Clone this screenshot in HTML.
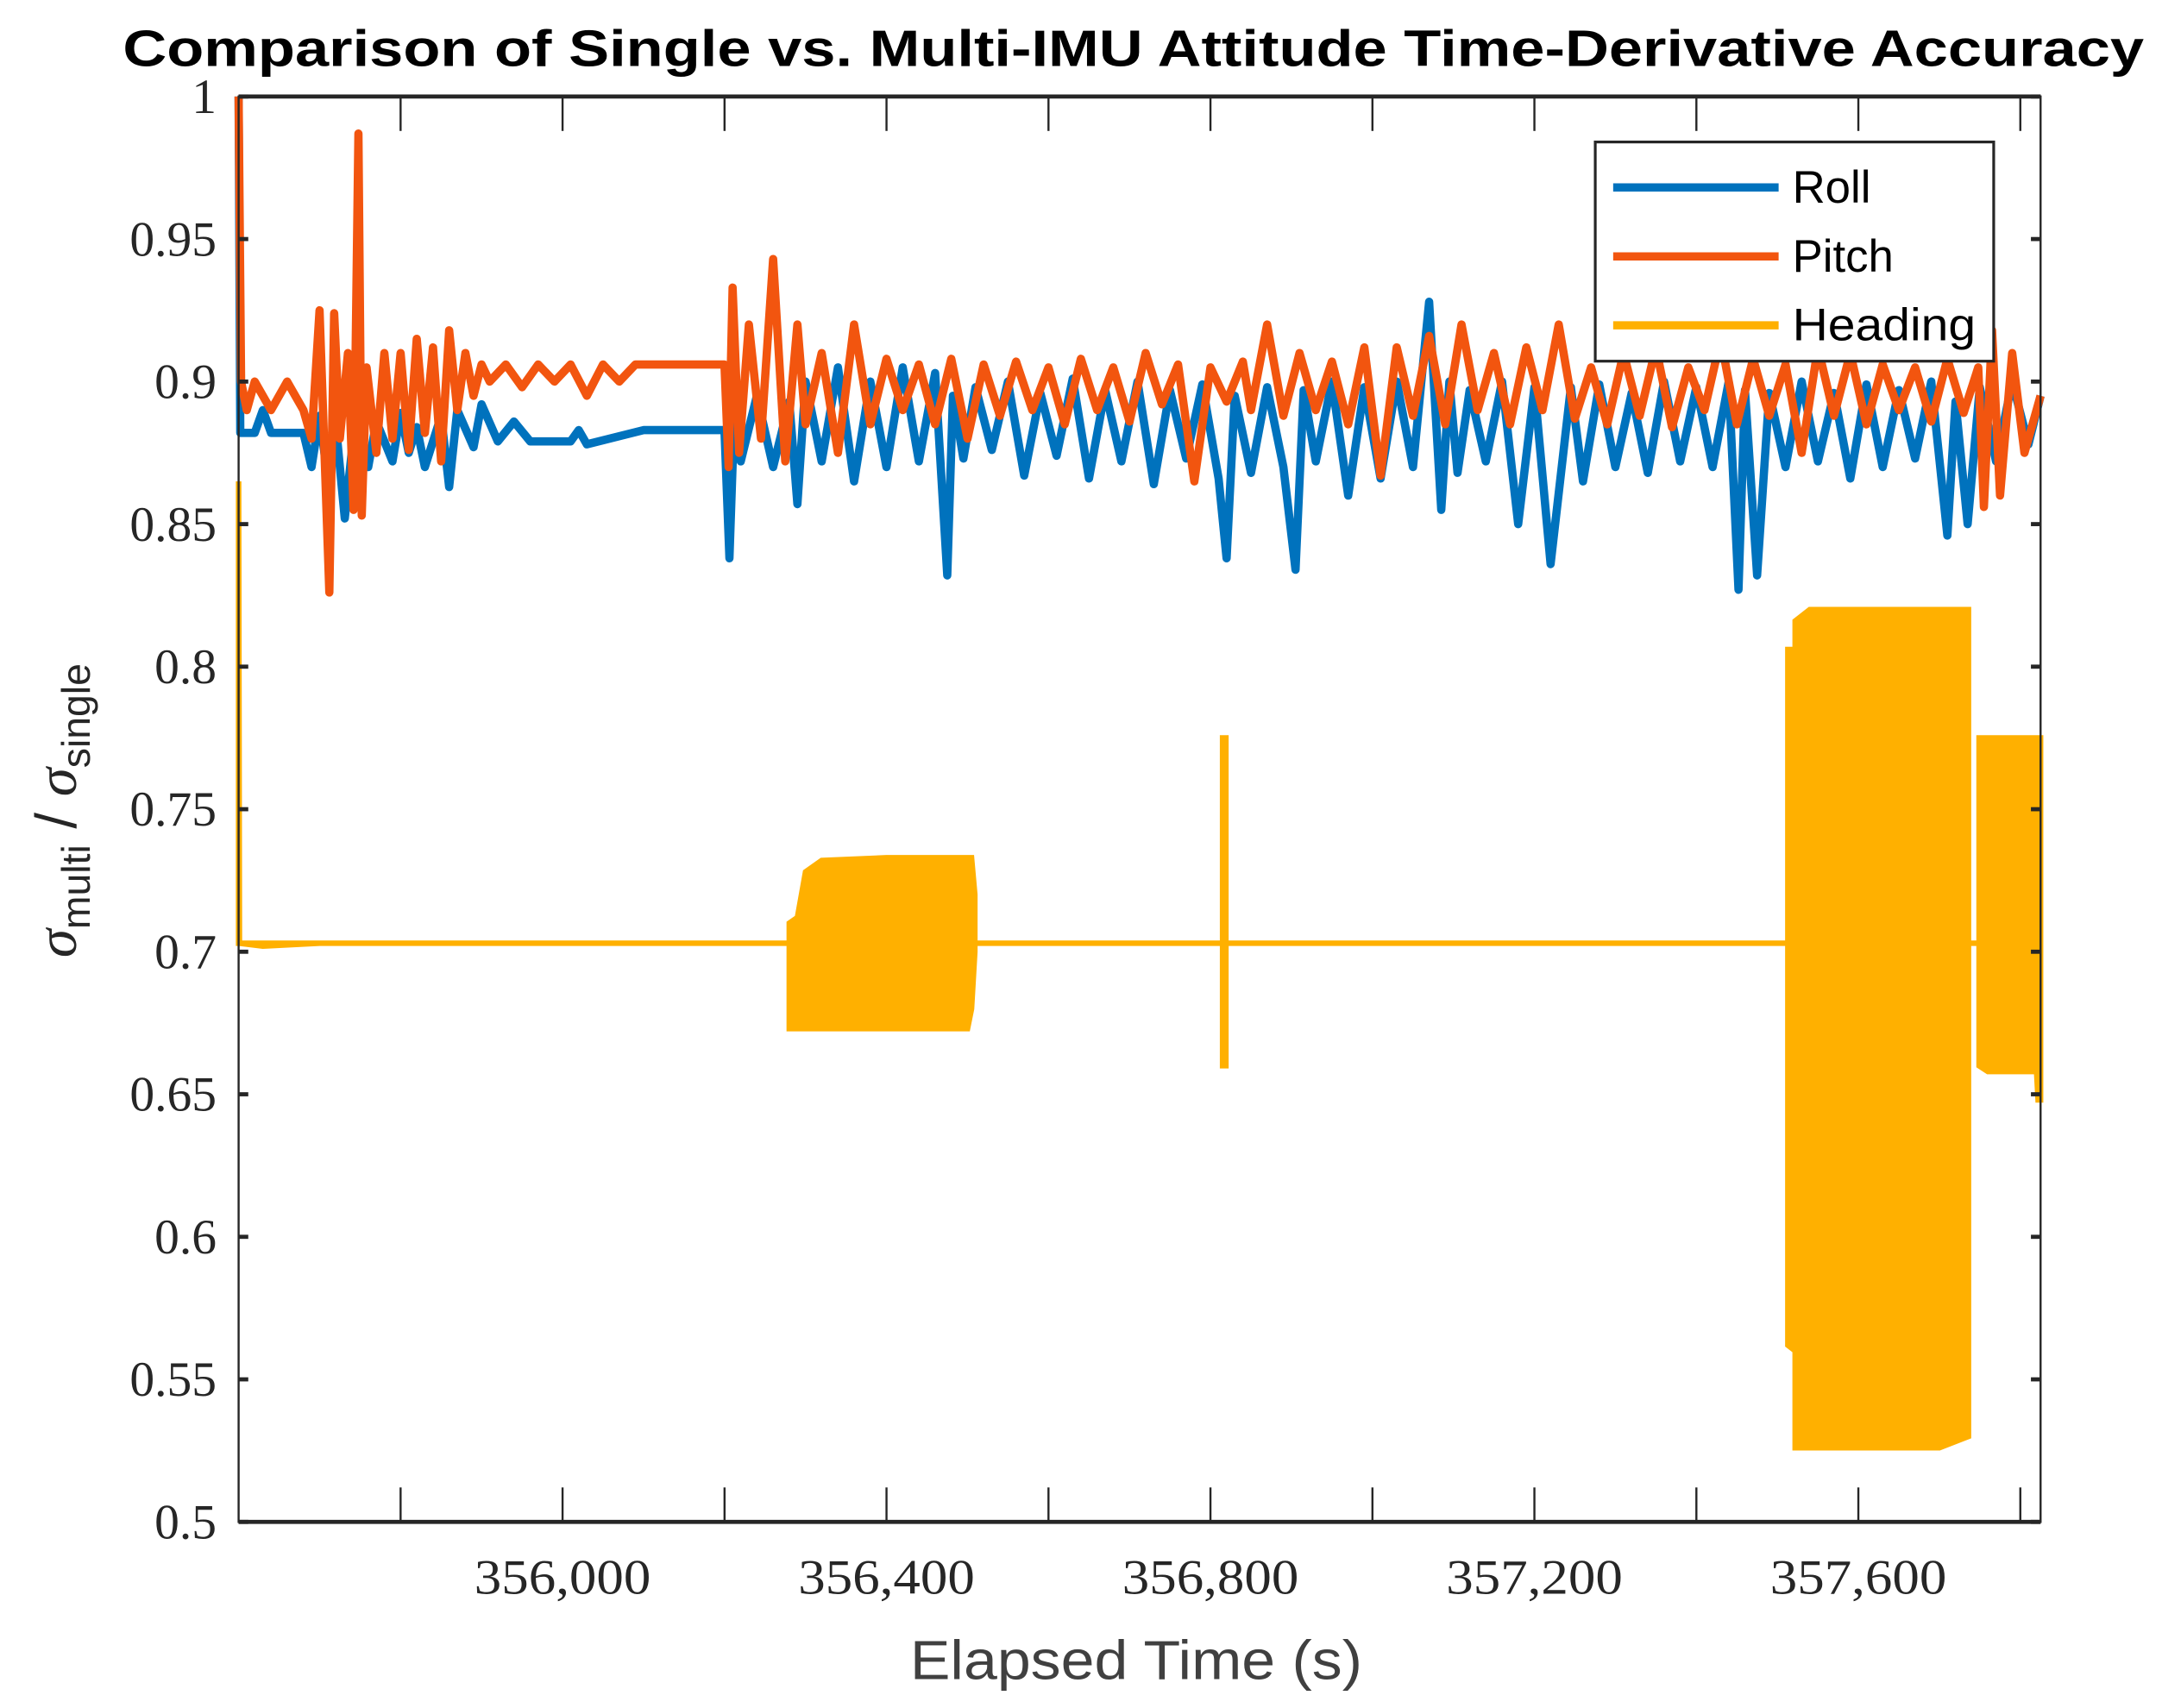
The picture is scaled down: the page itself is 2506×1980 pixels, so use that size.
<!DOCTYPE html>
<html><head><meta charset="utf-8"><style>
html,body{margin:0;padding:0;background:#fff}
svg{display:block}
</style></head><body>
<svg id="chart" width="2506" height="1980" viewBox="0 0 1568 1239" xmlns="http://www.w3.org/2000/svg">
<rect width="1568" height="1239" fill="#fff"/>
<text x="89" y="48" textLength="1466" lengthAdjust="spacingAndGlyphs" font-family="Liberation Sans, sans-serif" font-weight="bold" font-size="37">Comparison of Single vs. Multi-IMU Attitude Time-Derivative Accuracy</text>
<g id="plot"></g>
<g id="axes"></g>
<text x="660" y="1218" textLength="328" lengthAdjust="spacingAndGlyphs" font-family="Liberation Sans, sans-serif" font-size="40" fill="#404040">Elapsed Time (s)</text>
<text transform="translate(55,588) rotate(-90)" text-anchor="middle" font-family="Liberation Sans, sans-serif" font-size="42" fill="#262626"><tspan font-style="italic" font-family="Liberation Serif, serif">σ</tspan><tspan font-size="29" dy="10">multi</tspan><tspan dy="-10"> / </tspan><tspan font-style="italic" font-family="Liberation Serif, serif">σ</tspan><tspan font-size="29" dy="10">single</tspan></text>
<g>
<rect x="1157" y="103" width="289" height="159" fill="#fff" stroke="#262626" stroke-width="2"/>
<line x1="1170" y1="136" x2="1290" y2="136" stroke="#0072BD" stroke-width="6"/>
<text x="1300" y="147" font-family="Liberation Sans, sans-serif" font-size="33">Roll</text>
<line x1="1170" y1="186" x2="1290" y2="186" stroke="#F2550F" stroke-width="6"/>
<text x="1300" y="197" font-family="Liberation Sans, sans-serif" font-size="33">Pitch</text>
<line x1="1170" y1="236" x2="1290" y2="236" stroke="#FFB000" stroke-width="6"/>
<text x="1300" y="247" textLength="133" lengthAdjust="spacingAndGlyphs" font-family="Liberation Sans, sans-serif" font-size="33">Heading</text>
</g>
</svg>
<script>
const xTicks=[356000,356400,356800,357200,357600];
const xTickLabels=["356,000","356,400","356,800","357,200","357,600"];
const yTicks=[0.5,0.55,0.6,0.65,0.7,0.75,0.8,0.85,0.9,0.95,1];
const yTickLabels=["0.5","0.55","0.6","0.65","0.7","0.75","0.8","0.85","0.9","0.95","1"];
const rollT=[355600,355602,355620,355630,355640,355680,355690,355700,355710,355720,355731,355745,355760,355770,355790,355800,355810,355820,355830,355850,355860,355870,355890,355900,355920,355940,355960,356010,356020,356030,356100,356200,356206,356212,356220,356240,356260,356280,356290,356300,356320,356340,356360,356380,356400,356420,356440,356460,356475,356482,356495,356510,356530,356550,356570,356590,356610,356630,356650,356670,356690,356710,356730,356750,356770,356790,356810,356820,356830,356850,356870,356890,356905,356915,356930,356950,356970,356990,357010,357030,357050,357070,357085,357095,357105,357120,357140,357160,357180,357200,357220,357245,357260,357280,357300,357320,357340,357360,357380,357400,357420,357440,357452,357460,357475,357490,357510,357530,357550,357570,357590,357610,357630,357650,357670,357690,357710,357720,357735,357750,357770,357790,357810,357825];
const rollV=[1.0,0.882,0.882,0.89,0.882,0.882,0.87,0.888,0.866,0.885,0.852,0.89,0.87,0.886,0.872,0.889,0.875,0.884,0.87,0.888,0.863,0.89,0.877,0.892,0.879,0.886,0.879,0.879,0.883,0.878,0.883,0.883,0.838,0.888,0.872,0.895,0.87,0.893,0.857,0.9,0.872,0.905,0.865,0.9,0.87,0.905,0.872,0.903,0.832,0.895,0.873,0.898,0.876,0.9,0.867,0.896,0.874,0.901,0.866,0.897,0.872,0.9,0.864,0.897,0.873,0.899,0.866,0.838,0.895,0.868,0.898,0.87,0.834,0.897,0.872,0.9,0.86,0.898,0.866,0.9,0.87,0.928,0.855,0.9,0.868,0.897,0.872,0.9,0.85,0.898,0.836,0.898,0.865,0.899,0.87,0.896,0.868,0.9,0.872,0.898,0.87,0.9,0.827,0.897,0.832,0.896,0.87,0.9,0.872,0.896,0.866,0.899,0.87,0.897,0.873,0.9,0.846,0.893,0.85,0.898,0.872,0.9,0.878,0.895];
const pitchT=[355600,355603,355610,355620,355640,355660,355680,355690,355700,355712,355718,355725,355735,355742,355748,355752,355758,355770,355780,355790,355800,355810,355820,355830,355840,355850,355860,355870,355880,355890,355900,355910,355930,355950,355970,355990,356010,356030,356050,356070,356090,356120,356150,356180,356200,356205,356210,356218,356230,356245,356260,356275,356290,356300,356320,356340,356360,356380,356400,356420,356440,356460,356480,356500,356520,356540,356560,356580,356600,356620,356640,356660,356680,356700,356720,356740,356760,356780,356800,356820,356840,356850,356870,356890,356910,356930,356950,356970,356990,357010,357030,357050,357070,357090,357110,357130,357150,357170,357190,357210,357230,357250,357270,357290,357310,357330,357350,357370,357390,357410,357430,357450,357470,357490,357510,357530,357550,357570,357590,357610,357630,357650,357670,357690,357710,357730,357748,357755,357765,357775,357790,357805,357825];
const pitchV=[1.0,0.9,0.89,0.9,0.89,0.9,0.89,0.88,0.925,0.826,0.924,0.88,0.91,0.855,0.987,0.853,0.905,0.875,0.91,0.88,0.91,0.876,0.915,0.882,0.912,0.872,0.918,0.89,0.91,0.895,0.906,0.9,0.906,0.898,0.906,0.9,0.906,0.895,0.906,0.9,0.906,0.906,0.906,0.906,0.906,0.87,0.933,0.875,0.92,0.88,0.943,0.872,0.92,0.885,0.91,0.875,0.92,0.885,0.908,0.89,0.906,0.885,0.908,0.88,0.906,0.888,0.907,0.89,0.905,0.885,0.908,0.89,0.905,0.886,0.91,0.892,0.906,0.865,0.905,0.893,0.907,0.89,0.92,0.888,0.91,0.89,0.907,0.885,0.912,0.867,0.912,0.888,0.916,0.885,0.92,0.89,0.91,0.885,0.912,0.89,0.92,0.887,0.905,0.885,0.91,0.888,0.912,0.884,0.905,0.89,0.915,0.885,0.908,0.888,0.906,0.875,0.912,0.888,0.91,0.885,0.906,0.89,0.905,0.886,0.908,0.889,0.905,0.856,0.918,0.86,0.91,0.875,0.895];
const headT=[355600,355601,355630,355700,356280,356280,356290,356300,356320,356400,356500,356505,356509,356509,356815,356815,356819,356819,357513,357513,357522,357522,357540,357600,357700,357736,357736,357749,357749,357760,357820,357822,357825];
const headLo=[0.703,0.703,0.702,0.703,0.703,0.673,0.673,0.673,0.673,0.673,0.673,0.68,0.7,0.703,0.703,0.66,0.66,0.703,0.703,0.562,0.56,0.526,0.526,0.526,0.526,0.53,0.703,0.703,0.66,0.658,0.658,0.648,0.648];
const headHi=[0.865,0.703,0.703,0.703,0.703,0.71,0.712,0.728,0.732,0.733,0.733,0.733,0.72,0.703,0.703,0.775,0.775,0.703,0.703,0.806,0.806,0.816,0.82,0.82,0.82,0.82,0.703,0.703,0.775,0.775,0.775,0.775,0.775];
const X0=355600,X1=357825,PL=173,PR=1480,PT=70,PB=1104,Y0=0.5,Y1=1;
function xs(t){return PL+(t-X0)/(X1-X0)*(PR-PL);}
function ys(v){return PB-(v-Y0)/(Y1-Y0)*(PB-PT);}
const NS="http://www.w3.org/2000/svg";
const plot=document.getElementById('plot'),axes=document.getElementById('axes');
function mk(tag,attrs,parent){const e=document.createElementNS(NS,tag);for(const k in attrs)e.setAttribute(k,attrs[k]);parent.appendChild(e);return e;}
let pts=[];
for(let i=0;i<headT.length;i++)pts.push(xs(headT[i]).toFixed(1)+","+ys(headHi[i]).toFixed(1));
for(let i=headT.length-1;i>=0;i--)pts.push(xs(headT[i]).toFixed(1)+","+ys(headLo[i]).toFixed(1));
const hb=mk('polygon',{points:pts.join(' '),fill:'#FFB000',stroke:'#FFB000','stroke-width':4,'stroke-linejoin':'miter'},plot);


function line(T,V,color,name){const p=T.map((t,i)=>xs(t).toFixed(1)+","+ys(V[i]).toFixed(1)).join(' ');
const e=mk('polyline',{points:p,fill:'none',stroke:color,'stroke-width':6,'stroke-linejoin':'round'},plot);

}
line(rollT,rollV,'#0072BD','roll-series');
line(pitchT,pitchV,'#F2550F','pitch-series');
const box=mk('rect',{x:PL,y:PT,width:PR-PL,height:PB-PT,fill:'none',stroke:'#262626','stroke-width':1.5},axes);


mk('line',{x1:PL,y1:PT,x2:PR,y2:PT,stroke:'#262626','stroke-width':3},axes);
mk('line',{x1:PL,y1:PB,x2:PR,y2:PB,stroke:'#262626','stroke-width':3},axes);
for(let t=355800;t<=X1;t+=200){const x=xs(t);
mk('line',{x1:x,y1:PB,x2:x,y2:PB-25,stroke:'#262626','stroke-width':1.5},axes);
mk('line',{x1:x,y1:PT,x2:x,y2:PT+25,stroke:'#262626','stroke-width':1.5},axes);}
xTicks.forEach((t,i)=>{const e=mk('text',{x:xs(t),y:1156,'text-anchor':'middle',textLength:128,lengthAdjust:'spacingAndGlyphs','font-family':'Liberation Serif, serif','font-size':36,fill:'#262626'},axes);e.textContent=xTickLabels[i];

});
yTicks.forEach((v,i)=>{const y=ys(v);
mk('line',{x1:PL,y1:y,x2:PL+7,y2:y,stroke:'#262626','stroke-width':3},axes);
mk('line',{x1:PR-7,y1:y,x2:PR,y2:y,stroke:'#262626','stroke-width':3},axes);
const e=mk('text',{x:157,y:y+12,'text-anchor':'end','font-family':'Liberation Serif, serif','font-size':36,fill:'#262626'},axes);e.textContent=yTickLabels[i];

});
</script>
</body></html>
